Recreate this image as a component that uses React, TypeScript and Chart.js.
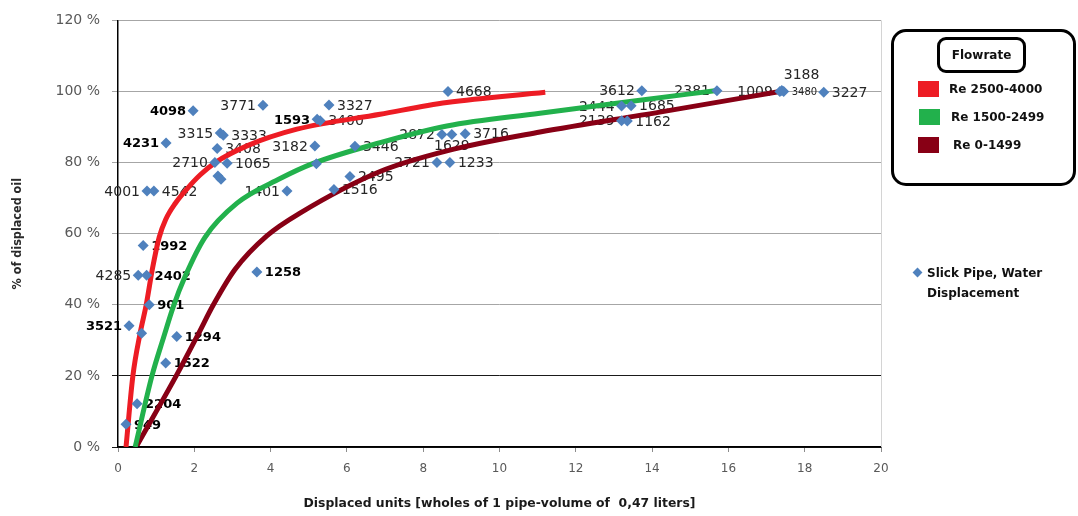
import React, { useEffect, useRef } from "react";
import { Chart, registerables } from "chart.js";

Chart.register(...registerables);

// ---- Measured data points (Slick Pipe, Water Displacement) ----
const pointX = [
  1.97, 3.8, 5.53, 5.22, 5.3, 2.68, 2.76, 1.26, 2.6, 5.16,
  6.21, 2.54, 2.86, 5.2, 2.62, 2.7, 0.76, 0.94, 4.43, 5.66,
  6.08, 8.49, 8.75, 9.1, 8.65, 8.36, 8.7, 13.73, 13.2, 13.45,
  13.2, 13.35, 15.7, 17.35, 17.4, 17.45, 18.5, 0.66, 0.53, 0.75,
  0.82, 0.29, 0.62, 1.54, 1.25, 0.5, 0.21, 3.64,
];
const pointY = [
  94.6, 96.1, 96.2, 92.2, 91.8, 88.3, 87.7, 85.5, 84.0, 84.7,
  84.6, 80.0, 79.8, 79.7, 76.2, 75.3, 72.0, 72.0, 72.0, 72.4,
  76.1, 87.9, 87.9, 88.1, 100.0, 80.0, 80.0, 100.2, 95.9, 96.0,
  91.8, 91.7, 100.2, 100.0, 100.3, 100.0, 99.8, 56.7, 48.3, 48.3,
  40.0, 34.1, 32.0, 31.1, 23.6, 12.2, 6.4, 49.2,
];
const pointLabels = [
  "4098", "3771", "3327", "1593", "3400", "3315", "3333", "4231", "3408", "3182",
  "3446", "2710", "1065", "", "", "", "4001", "4542", "1401", "1516",
  "2495", "2872", "1629", "3716", "4668", "2721", "1233", "3612", "2444", "1685",
  "2139", "1162", "2381", "1009", "3188", "3480", "3227", "1992", "4285", "2402",
  "901", "3521", "", "1294", "1522", "2204", "949", "1258",
];
// label placement: r = right, l = left, t = above, b = below
const labelSide = [
  "l", "l", "r", "l", "r", "l", "r", "l", "r", "l",
  "r", "l", "r", "r", "r", "r", "l", "r", "l", "r",
  "r", "l", "b", "r", "r", "l", "r", "l", "l", "r",
  "l", "r", "l", "l", "t", "r", "r", "r", "l", "r",
  "r", "l", "r", "r", "r", "r", "r", "r",
];
const boldLabels = ["4098", "1593", "4231", "3521", "1258", "1992", "2402", "901", "1294", "1522", "2204", "949"];
const smallLabels = ["3480"];

// ---- Flowrate curves ----
const redX = [0.21, 0.39, 0.58, 0.74, 0.9, 1.08, 1.25, 1.5, 1.8, 2.15, 2.55, 3.38, 4.69, 6.87, 8.62, 11.2];
const redY = [0, 20, 32, 40, 50, 59, 64, 68.5, 72.5, 76.5, 80, 84.7, 89.4, 93.6, 96.9, 99.8];
const greenX = [0.45, 0.89, 1.2, 1.45, 1.76, 2.28, 3.12, 4.25, 5.1, 6.87, 8.62, 11.06, 13.42, 15.7];
const greenY = [0, 20, 31, 39.5, 48, 59, 68.6, 75.5, 79.7, 85.6, 90.3, 93.9, 97.2, 100.3];
const darkX = [0.5, 1.55, 2.1, 2.5, 3.07, 3.9, 4.77, 6.87, 8.62, 11.06, 14.2, 17.35];
const darkY = [0.5, 20.5, 31.7, 40, 50, 59.4, 65.8, 77.5, 83.3, 88.6, 94.2, 100];

const seriesNames = ["Re 2500-4000", "Re 1500-2499", "Re 0-1499"];
const seriesColors = ["#ed1c24", "#22b14c", "#880015"];
const scatterName = "Slick Pipe, Water Displacement";

const xTitle = "Displaced units [wholes of 1 pipe-volume of  0,47 liters]";
const yTitle = "% of displaced oil";

const toPts = (xs: number[], ys: number[]) => xs.map((x, i) => ({ x, y: ys[i] }));

const labelPlugin = {
  id: "pointLabelsAndBorder",
  beforeDatasetsDraw(chart: any) {
    const { ctx, chartArea, scales } = chart;
    const xs = scales.x;
    const ys = scales.y;
    ctx.save();
    // right border of plot area
    ctx.strokeStyle = "#d4d4d4";
    ctx.lineWidth = 1;
    ctx.beginPath();
    ctx.moveTo(chartArea.right + 0.5, chartArea.top);
    ctx.lineTo(chartArea.right + 0.5, chartArea.bottom);
    ctx.stroke();
    ctx.textBaseline = "middle";
    pointLabels.forEach((lab, i) => {
      if (!lab) return;
      const px = xs.getPixelForValue(pointX[i]);
      const py = ys.getPixelForValue(pointY[i]);
      const bold = boldLabels.includes(lab);
      const small = smallLabels.includes(lab);
      ctx.font = small
        ? '10px "DejaVu Sans"'
        : bold
        ? 'bold 13px "DejaVu Sans"'
        : '14px "DejaVu Sans"';
      ctx.fillStyle = bold ? "#000000" : "#262626";
      const side = labelSide[i];
      let tx = px;
      let ty = py + 1;
      if (side === "r") {
        ctx.textAlign = "left";
        tx = px + 8;
      } else if (side === "l") {
        ctx.textAlign = "right";
        tx = px - 7;
      } else if (side === "t") {
        ctx.textAlign = "left";
        tx = px + 2;
        ty = py - 15;
      } else {
        ctx.textAlign = "center";
        ty = py + 12;
      }
      ctx.fillText(lab, tx, ty);
    });
    ctx.restore();
  },
};

export default function App() {
  const canvasRef = useRef<HTMLCanvasElement | null>(null);

  useEffect(() => {
    if (!canvasRef.current) return;
    const lineDs = [toPts(redX, redY), toPts(greenX, greenY), toPts(darkX, darkY)].map((data, i) => ({
      type: "scatter" as const,
      label: seriesNames[i],
      data,
      showLine: true,
      borderColor: seriesColors[i],
      backgroundColor: seriesColors[i],
      borderWidth: 5,
      pointRadius: 0,
      cubicInterpolationMode: "monotone" as const,
      order: i + 1,
    }));
    const chart = new Chart(canvasRef.current, {
      type: "scatter",
      data: {
        datasets: [
          {
            label: scatterName,
            data: toPts(pointX, pointY),
            pointStyle: "rectRot",
            pointRadius: 5.5,
            backgroundColor: "#4f81bd",
            borderColor: "#4f81bd",
            borderWidth: 0,
            order: 0,
          },
          ...lineDs,
        ],
      },
      options: {
        animation: false,
        responsive: false,
        maintainAspectRatio: false,
        layout: { padding: { top: 15, right: 197, left: 0, bottom: 0 } },
        plugins: { legend: { display: false }, tooltip: { enabled: false } },
        scales: {
          x: {
            type: "linear",
            min: 0,
            max: 20,
            afterFit: (s: any) => {
              s.height = 69;
            },
            ticks: {
              stepSize: 2,
              maxRotation: 0,
              padding: 10,
              color: "#595959",
              font: { family: "DejaVu Sans", size: 12 },
            },
            grid: { drawOnChartArea: false, drawTicks: true, tickLength: 5, color: "#8c8c8c" },
            border: { color: "#000000", width: 1.5 },
            title: {
              display: true,
              text: xTitle,
              color: "#1a1a1a",
              font: { family: "DejaVu Sans", size: 12.4, weight: "bold" },
              padding: { top: 0, bottom: 5 },
            },
          },
          y: {
            type: "linear",
            min: 0,
            max: 120,
            afterFit: (s: any) => {
              s.width = 118;
            },
            ticks: {
              stepSize: 20,
              padding: 12,
              color: "#595959",
              font: { family: "DejaVu Sans", size: 14 },
              callback: (v: any) => `${v} %`,
            },
            grid: {
              tickLength: 6,
              lineWidth: 1,
              color: (ctx: any) =>
                ctx.tick && (ctx.tick.value === 20 || ctx.tick.value === 0) ? "#1a1a1a" : "#a6a6a6",
            },
            border: { color: "#000000", width: 1.5 },
            title: {
              display: true,
              text: yTitle,
              color: "#2a2a2a",
              font: { family: '"Liberation Sans Narrow", "DejaVu Sans Condensed", sans-serif', size: 12.5, weight: "bold" },
              padding: { top: 10, bottom: 0 },
            },
          },
        },
      },
      plugins: [labelPlugin],
    });
    return () => chart.destroy();
  }, []);

  const legendText: React.CSSProperties = {
    position: "absolute",
    fontFamily: '"DejaVu Sans", sans-serif',
    fontWeight: "bold",
    fontSize: 12,
    lineHeight: "14px",
    color: "#111",
    whiteSpace: "nowrap",
  };

  return (
    <div style={{ position: "absolute", left: 0, top: 0, width: 1078, height: 516, background: "#fff" }}>
      <canvas ref={canvasRef} width={1078} height={516} style={{ width: 1078, height: 516, display: "block" }} />
      {/* Flowrate legend box */}
      <div
        style={{
          position: "absolute",
          left: 891,
          top: 29,
          width: 185,
          height: 157,
          border: "3px solid #000",
          borderRadius: 15,
          boxSizing: "border-box",
        }}
      />
      <div
        style={{
          position: "absolute",
          left: 937,
          top: 37,
          width: 89,
          height: 36,
          border: "3px solid #000",
          borderRadius: 9,
          boxSizing: "border-box",
          display: "flex",
          alignItems: "center",
          justifyContent: "center",
          fontFamily: '"DejaVu Sans", sans-serif',
          fontWeight: "bold",
          fontSize: 12,
          color: "#111",
        }}
      >
        Flowrate
      </div>
      {seriesNames.map((name, i) => (
        <React.Fragment key={name}>
          <div
            style={{
              position: "absolute",
              left: 918 + (i === 1 ? 1 : 0),
              top: 81 + i * 28,
              width: 21,
              height: 16,
              background: seriesColors[i],
            }}
          />
          <div style={{ ...legendText, left: 949 + i * 2, top: 82 + i * 28 }}>{name}</div>
        </React.Fragment>
      ))}
      {/* Scatter legend */}
      <div
        style={{
          position: "absolute",
          left: 914,
          top: 269,
          width: 7,
          height: 7,
          background: "#4f81bd",
          transform: "rotate(45deg)",
        }}
      />
      <div style={{ ...legendText, left: 927, top: 263, fontSize: 12, lineHeight: "20px" }}>
        Slick Pipe, Water
        <br />
        Displacement
      </div>
    </div>
  );
}
